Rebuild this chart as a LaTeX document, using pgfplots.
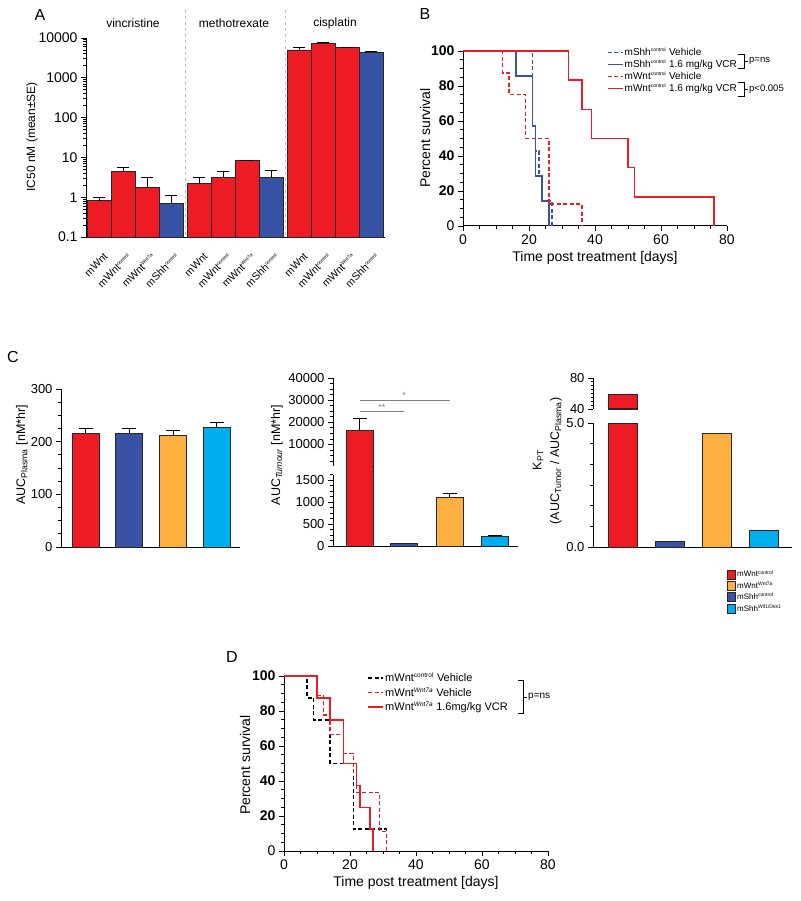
\documentclass[border=0pt]{standalone}
\usepackage{fontspec}
\setmainfont{Liberation Sans}
\usepackage{pgfplots}
\pgfplotsset{compat=1.18}
\definecolor{myred}{RGB}{237,28,36}
\definecolor{myblue}{RGB}{57,83,164}
\definecolor{myorange}{RGB}{251,176,64}
\definecolor{mycyan}{RGB}{0,174,239}
\newcommand{\fs}[1]{\fontsize{#1}{#1}\selectfont}
\newcommand{\sups}[1]{\textsuperscript{\fontsize{5}{5}\selectfont #1}}
\newcommand{\supd}[1]{\textsuperscript{\fontsize{6.5}{6.5}\selectfont #1}}
\pgfplotsset{
  base/.style={scale only axis, anchor=south west,
    axis x line*=bottom, axis y line*=left,
    axis line style={-, line width=1pt},
    tick align=outside, major tick length=5pt, minor tick length=3pt,
    tick style={black, line width=0.8pt},
    scaled ticks=false,
    /pgf/number format/assume math mode=true,
    /pgf/number format/1000 sep={},
    ticklabel style={font=\fs{14}}},
  cbar/.style={ybar, bar shift=0pt, draw=black!85, line width=0.8pt,
    error bars/y dir=plus, error bars/y explicit,
    error bars/error bar style={line width=0.8pt, black},
    error bars/error mark options={rotate=90, mark size=#1, line width=0.8pt, black}},
  cbar/.default=7pt,
  surv/.style={base, xmin=0, xmax=80, ymin=0, ymax=100, width=264pt, height=175pt,
    xtick={0,20,40,60,80}, xticklabels={0,20,40,60,80},
    ytick={0,20,40,60,80,100},
    yticklabels={0,\textbf{20},\textbf{40},\textbf{60},\textbf{80},\textbf{100}},
    minor x tick num=3, minor y tick num=3, clip=false,
    legend cell align=left,
    legend image code/.code={\draw[##1] (0pt,0pt) -- (15pt,0pt);}},
}
\begin{document}
\begin{tikzpicture}[x=1pt,y=1pt]
\useasboundingbox (0pt,0pt) rectangle (800pt,-901pt);
\fill[white] (0pt,0pt) rectangle (800pt,-901pt);

% ---------------- A ----------------
\draw[black!25, dashed, line width=0.6pt] (185pt,-10pt) -- (185pt,-237pt);
\draw[black!25, dashed, line width=0.6pt] (285pt,-10pt) -- (285pt,-237pt);
\node[font=\fs{12}] at (133pt,-23pt) {vincristine};
\node[font=\fs{12}] at (234pt,-23pt) {methotrexate};
\node[font=\fs{12}] at (335pt,-23pt) {cisplatin};
\node[font=\fs{16}] at (40pt,-15pt) {A};
\node[rotate=90, font=\fs{12}] at (32pt,-137pt) {IC50 nM (mean±SE)};
\begin{axis}[base, at={(86pt,-237pt)}, width=299pt, height=199pt,
  xmin=86, xmax=385, ymode=log, ymin=0.1, ymax=10000, log origin y=infty,
  xtick={99,123,147,171,199,223,247,271,299,323,347,371},
  xticklabels={mWnt,mWnt\sups{control},mWnt\sups{Wnt7a},mShh\sups{control},
               mWnt,mWnt\sups{control},mWnt\sups{Wnt7a},mShh\sups{control},
               mWnt,mWnt\sups{control},mWnt\sups{Wnt7a},mShh\sups{control}},
  x tick style={draw=none},
  xticklabel style={rotate=45, anchor=east, font=\fs{10.5}, yshift=-14pt, xshift=-1pt},
  ytick={0.1,1,10,100,1000,10000}, yticklabels={0.1,1,10,100,1000,10000},
  clip=false]
\addplot[cbar=6pt, bar width=24, fill=myred] coordinates {
 (99,0.82) +- (0,0.15)  (123,4.5) +- (0,1.0)  (147,1.8) +- (0,1.3)
 (199,2.2) +- (0,1.0)   (223,3.07) +- (0,1.43) (247,8.2) +- (0,0.4)
 (299,5000) +- (0,700)  (323,7400) +- (0,200) (347,5700) +- (0,200)};
\addplot[cbar=6pt, bar width=24, fill=myblue] coordinates {
 (171,0.69) +- (0,0.39) (271,3.2) +- (0,1.5) (371,4440) +- (0,210)};
\end{axis}

% ---------------- B ----------------
\node[font=\fs{16}] at (425pt,-14pt) {B};
\node[rotate=90, font=\fs{14}] at (425pt,-138pt) {Percent survival};
\node[font=\fs{14}] at (595pt,-258pt) {Time post treatment [days]};
\begin{axis}[surv, at={(463pt,-226pt)},
  legend style={at={(0.534,1.035)}, anchor=north west, draw=none, fill=none,
    font=\fs{10}, row sep=1.2pt, nodes={inner sep=1pt}}]
\addplot[draw=myblue, line width=1.5pt, dash pattern=on 4pt off 2.5pt] coordinates {
 (0,100)(21,100)(21,57.1)(22,57.1)(22,42.9)(23,42.9)(23,28.6)(24,28.6)(24,14.3)(27,14.3)(27,0)};
\addlegendentry{mShh\sups{control} Vehicle}
\addplot[draw=myblue, solid, line width=1.5pt] coordinates {
 (0,100)(16,100)(16,85.7)(21,85.7)(21,57.1)(22,57.1)(22,28.6)(24,28.6)(24,14.3)(26,14.3)(26,0)};
\addlegendentry{mShh\sups{control} 1.6 mg/kg VCR}
\addplot[draw=myred, line width=1.5pt, dash pattern=on 4pt off 2.5pt] coordinates {
 (0,100)(12,100)(12,87.5)(14,87.5)(14,75)(19,75)(19,50)(26,50)(26,12.5)(36,12.5)(36,0)};
\addlegendentry{mWnt\sups{control} Vehicle}
\addplot[draw=myred, solid, line width=1.5pt] coordinates {
 (0,100)(32,100)(32,83.3)(36,83.3)(36,66.7)(39,66.7)(39,50)(50,50)(50,33.3)(52,33.3)(52,16.7)(76,16.7)(76,0)};
\addlegendentry{mWnt\sups{control} 1.6 mg/kg VCR}
\end{axis}
\draw[line width=0.7pt] (738pt,-54pt) -- (744pt,-54pt) -- (744pt,-68pt) -- (738pt,-68pt);
\draw[line width=0.7pt] (744pt,-61pt) -- (748pt,-61pt);
\node[anchor=west, font=\fs{9.5}, inner sep=1pt] at (748pt,-61pt) {p=ns};
\draw[line width=0.7pt] (738pt,-82pt) -- (744pt,-82pt) -- (744pt,-96pt) -- (738pt,-96pt);
\draw[line width=0.7pt] (744pt,-89pt) -- (748pt,-89pt);
\node[anchor=west, font=\fs{9.5}, inner sep=1pt] at (748pt,-89pt) {p<0.005};

% ---------------- C1 ----------------
\node[font=\fs{16}] at (13pt,-357pt) {C};
\node[rotate=90, font=\fs{12.5}] at (22pt,-455pt) {AUC\textsubscript{Plasma} [nM*hr]};
\begin{axis}[base, at={(61pt,-547pt)}, width=179pt, height=158pt,
  xmin=61, xmax=240, ymin=0, ymax=300, xtick=\empty,
  ytick={0,100,200,300}, yticklabels={0,100,200,300}, minor y tick num=3,
  ticklabel style={font=\fs{13}}]
\addplot[cbar, bar width=27, fill=myred] coordinates {(85.5,215.6) +- (0,9.4)};
\addplot[cbar, bar width=27, fill=myblue] coordinates {(129,216) +- (0,9)};
\addplot[cbar, bar width=27, fill=myorange] coordinates {(173,211) +- (0,10)};
\addplot[cbar, bar width=27, fill=mycyan] coordinates {(216.5,228) +- (0,8.6)};
\end{axis}

% ---------------- C2 ----------------
\node[rotate=90, font=\fs{12.5}] at (277pt,-455pt) {AUC\textsubscript{\textit{Tumour}} [nM*hr]};
\begin{axis}[base, at={(333pt,-546pt)}, width=185pt, height=80pt,
  xmin=333, xmax=518, ymin=0, ymax=1818, xtick=\empty,
  y axis line style={shorten >=9pt},
  ytick={0,500,1000,1500}, yticklabels={0,500,1000,1500},
  minor ytick={125,250,375,625,750,875,1125,1250,1375,1625},
  ticklabel style={font=\fs{13}}]
\addplot[ybar, bar shift=0pt, bar width=27, fill=myred, draw=none] coordinates {(359.5,16400)};
\draw[black!85, line width=0.8pt] (axis cs:346,0) -- (axis cs:346,1818);
\draw[black!85, line width=0.8pt] (axis cs:373,0) -- (axis cs:373,1818);
\addplot[cbar, bar width=27, fill=myblue] coordinates {(404,68)};
\addplot[cbar, bar width=27, fill=myorange] coordinates {(449.5,1114) +- (0,86)};
\addplot[cbar, bar width=27, fill=mycyan] coordinates {(494.5,227) +- (0,8)};
\end{axis}
\begin{axis}[base, at={(333pt,-466pt)}, width=185pt, height=88pt,
  xmin=333, xmax=518, ymin=300, ymax=40000, axis x line=none,
  ytick={10000,20000,30000,40000}, yticklabels={10000,20000,30000,40000},
  minor ytick={2500,5000,7500,12500,15000,17500,22500,25000,27500,32500,35000,37500},
  ticklabel style={font=\fs{13}}]
\addplot[cbar, bar width=27, fill=myred] coordinates {(359.5,16400) +- (0,5400)};
\draw[myred, line width=3pt] (axis cs:346.6,300) -- (axis cs:372.4,300);
\draw[black!50, line width=1pt] (axis cs:359.5,30000) -- (axis cs:449.5,30000);
\draw[black!50, line width=1pt] (axis cs:359.5,25000) -- (axis cs:404,25000);
\node[black!50, font=\fs{9}, anchor=south, inner sep=1pt] at (axis cs:404,30000) {*};
\node[black!50, font=\fs{9}, anchor=south, inner sep=1pt] at (axis cs:381.75,25000) {**};
\end{axis}

% ---------------- C3 ----------------
\node[rotate=90, font=\fs{12.5}] at (538pt,-460pt) {K\textsubscript{PT}};
\node[rotate=90, font=\fs{12.5}] at (556pt,-461pt) {(AUC\textsubscript{Tumor} / AUC\textsubscript{Plasma})};
\begin{axis}[base, at={(593pt,-547pt)}, width=199pt, height=124pt,
  xmin=593, xmax=792, ymin=0, ymax=5, xtick=\empty,
  ytick={0,5}, yticklabels={0.0,5.0},
  minor ytick={0.8333,1.6667,2.5,3.3333,4.1667},
  ticklabel style={font=\fs{13}},
  legend style={at={(0.658,-0.16)}, anchor=north west, draw=none, fill=none,
    font=\fs{8}, row sep=0.5pt, nodes={inner sep=1.5pt}},
  legend cell align=left,
  legend image code/.code={\draw[#1, line width=0.5pt] (0pt,-4.5pt) rectangle (8pt,4.5pt);}]
\addplot[cbar, bar width=29, fill=myred] coordinates {(622.5,59)};
\addlegendentry{mWnt\sups{control}}
\addplot[cbar, bar width=29, fill=myorange] coordinates {(717,4.6)};
\addlegendentry{mWnt\sups{Wnt7a}}
\addplot[cbar, bar width=29, fill=myblue] coordinates {(669.5,0.24)};
\addlegendentry{mShh\sups{control}}
\addplot[cbar, bar width=29, fill=mycyan] coordinates {(763.5,0.65)};
\addlegendentry{mShh\sups{Wif1/Dkk1}}
\draw[black!85, line width=0.8pt, yshift=-0.4pt] (axis cs:608,5) -- (axis cs:637,5);
\end{axis}
\begin{axis}[base, at={(593pt,-409pt)}, width=199pt, height=31pt,
  xmin=593, xmax=792, ymin=40, ymax=80, axis x line=none,
  ytick={40,80}, yticklabels={40,80}, minor ytick={45,50,55,60,65,70,75},
  minor tick length=2.5pt, ticklabel style={font=\fs{13}}]
\addplot[cbar, bar width=29, fill=myred] coordinates {(622.5,59)};
\draw[black!85, line width=0.8pt, yshift=0.4pt] (axis cs:608,40) -- (axis cs:637,40);
\end{axis}

% ---------------- D ----------------
\node[font=\fs{16}] at (232pt,-657pt) {D};
\node[rotate=90, font=\fs{14}] at (245pt,-765pt) {Percent survival};
\node[font=\fs{14}] at (416pt,-883pt) {Time post treatment [days]};
\begin{axis}[surv, at={(284pt,-851pt)},
  legend style={at={(0.305,1.035)}, anchor=north west, draw=none, fill=none,
    font=\fs{11}, row sep=2.5pt, nodes={inner sep=1pt}}]
\addplot[draw=black, line width=1.5pt, dash pattern=on 4pt off 2.5pt] coordinates {
 (0,100)(7,100)(7,87.5)(9,87.5)(9,75)(14,75)(14,50)(21,50)(21,12.5)(31,12.5)(31,0)};
\addlegendentry{mWnt\supd{control} Vehicle}
\addplot[draw=myred, line width=1.5pt, dash pattern=on 4pt off 2.5pt] coordinates {
 (0,100)(10,100)(10,88.9)(12,88.9)(12,77.8)(14,77.8)(14,66.7)(18,66.7)(18,55.6)(21,55.6)(21,44.4)(22,44.4)(22,33.3)(29,33.3)(29,11.1)(31,11.1)(31,0)};
\addlegendentry{mWnt\supd{\textit{Wnt7a}} Vehicle}
\addplot[draw=myred, solid, line width=1.5pt] coordinates {
 (0,100)(10,100)(10,87.5)(14,87.5)(14,75)(18,75)(18,50)(22,50)(22,37.5)(23,37.5)(23,25)(26,25)(26,12.5)(27,12.5)(27,0)};
\addlegendentry{mWnt\supd{\textit{Wnt7a}} 1.6mg/kg VCR}
\end{axis}
\draw[line width=0.7pt] (518pt,-680pt) -- (523pt,-680pt) -- (523pt,-713pt) -- (518pt,-713pt);
\draw[line width=0.7pt] (523pt,-697pt) -- (527pt,-697pt);
\node[anchor=west, font=\fs{10}, inner sep=1pt] at (527pt,-697pt) {p=ns};
\end{tikzpicture}
\end{document}
